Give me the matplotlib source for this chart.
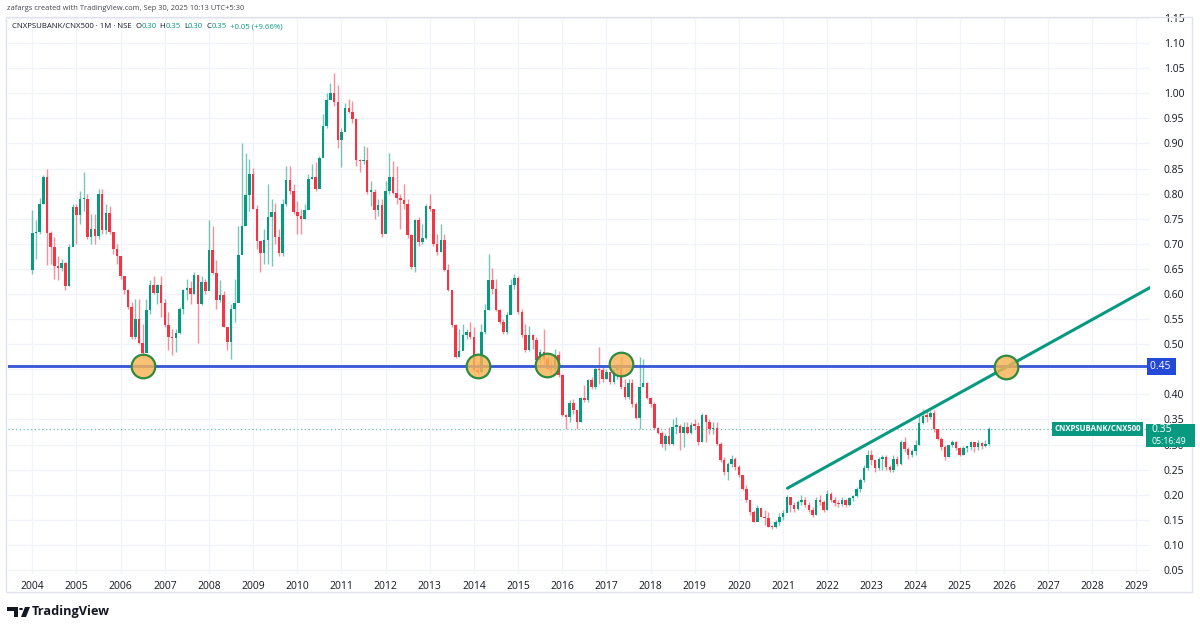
import matplotlib
matplotlib.use("Agg")
import matplotlib.pyplot as plt
from matplotlib.patches import Rectangle, Polygon, Circle
from matplotlib.transforms import blended_transform_factory

# ---------------- data (monthly candles, Jan 2004 .. Sep 2025) ----------------
first_open = 0.648
closes = [
    0.721, 0.724, 0.780, 0.834, 0.722, 0.694, 0.655, 0.651, 0.661, 0.615, 0.694, 0.774,
    0.757, 0.789, 0.790, 0.713, 0.730, 0.716, 0.800, 0.728, 0.762, 0.724, 0.689, 0.675,
    0.635, 0.608, 0.575, 0.515, 0.550, 0.502, 0.482, 0.568, 0.618, 0.602, 0.618, 0.582,
    0.538, 0.515, 0.512, 0.522, 0.570, 0.608, 0.611, 0.600, 0.638, 0.581, 0.624, 0.605,
    0.687, 0.642, 0.588, 0.598, 0.535, 0.505, 0.571, 0.583, 0.678, 0.736, 0.798, 0.840,
    0.770, 0.705, 0.682, 0.707, 0.754, 0.764, 0.714, 0.681, 0.779, 0.827, 0.806, 0.764,
    0.755, 0.750, 0.767, 0.829, 0.834, 0.810, 0.872, 0.935, 0.986, 1.001, 0.983, 0.907,
    0.923, 0.970, 0.963, 0.948, 0.867, 0.865, 0.868, 0.804, 0.804, 0.767, 0.777, 0.720,
    0.805, 0.834, 0.802, 0.792, 0.787, 0.780, 0.717, 0.653, 0.747, 0.704, 0.712, 0.775,
    0.770, 0.700, 0.684, 0.707, 0.648, 0.608, 0.538, 0.475, 0.486, 0.518, 0.525, 0.515,
    0.448, 0.445, 0.525, 0.568, 0.628, 0.610, 0.568, 0.545, 0.525, 0.558, 0.617, 0.631,
    0.564, 0.518, 0.488, 0.518, 0.508, 0.468, 0.484, 0.470, 0.451, 0.448, 0.478, 0.438,
    0.358, 0.355, 0.382, 0.368, 0.345, 0.392, 0.388, 0.428, 0.415, 0.450, 0.448, 0.431,
    0.445, 0.425, 0.448, 0.452, 0.415, 0.395, 0.423, 0.380, 0.352, 0.415, 0.423, 0.392,
    0.380, 0.332, 0.322, 0.302, 0.318, 0.302, 0.335, 0.337, 0.322, 0.335, 0.322, 0.339,
    0.337, 0.305, 0.359, 0.345, 0.330, 0.333, 0.302, 0.270, 0.246, 0.262, 0.272, 0.256,
    0.240, 0.212, 0.190, 0.166, 0.146, 0.173, 0.156, 0.153, 0.136, 0.135, 0.146, 0.156,
    0.163, 0.196, 0.180, 0.172, 0.186, 0.190, 0.180, 0.170, 0.160, 0.190, 0.186, 0.170,
    0.201, 0.190, 0.183, 0.181, 0.190, 0.180, 0.193, 0.197, 0.211, 0.230, 0.253, 0.279,
    0.269, 0.253, 0.272, 0.276, 0.256, 0.250, 0.272, 0.262, 0.306, 0.292, 0.280, 0.288,
    0.300, 0.342, 0.357, 0.355, 0.363, 0.330, 0.312, 0.296, 0.276, 0.299, 0.305, 0.293,
    0.280, 0.294, 0.295, 0.305, 0.296, 0.304, 0.298, 0.302, 0.331,
]
highs = [
    0.767, 0.748, 0.792, 0.837, 0.850, 0.725, 0.713, 0.676, 0.670, 0.664, 0.700, 0.780,
    0.780, 0.805, 0.844, 0.800, 0.760, 0.760, 0.810, 0.810, 0.780, 0.775, 0.720, 0.700,
    0.675, 0.630, 0.610, 0.585, 0.590, 0.590, 0.540, 0.590, 0.628, 0.635, 0.620, 0.635,
    0.590, 0.565, 0.530, 0.530, 0.575, 0.610, 0.630, 0.626, 0.644, 0.636, 0.635, 0.630,
    0.747, 0.735, 0.667, 0.627, 0.605, 0.535, 0.580, 0.630, 0.735, 0.900, 0.880, 0.870,
    0.852, 0.777, 0.700, 0.730, 0.820, 0.790, 0.782, 0.730, 0.790, 0.855, 0.855, 0.820,
    0.785, 0.770, 0.780, 0.840, 0.860, 0.864, 0.875, 0.958, 1.000, 1.020, 1.040, 1.016,
    0.930, 0.980, 0.988, 0.985, 0.950, 0.870, 0.895, 0.893, 0.825, 0.810, 0.790, 0.790,
    0.826, 0.880, 0.866, 0.855, 0.800, 0.820, 0.790, 0.720, 0.750, 0.753, 0.740, 0.780,
    0.800, 0.770, 0.720, 0.740, 0.720, 0.660, 0.608, 0.540, 0.530, 0.540, 0.530, 0.545,
    0.535, 0.465, 0.540, 0.580, 0.680, 0.652, 0.630, 0.570, 0.550, 0.565, 0.630, 0.640,
    0.635, 0.570, 0.540, 0.537, 0.520, 0.515, 0.490, 0.530, 0.480, 0.470, 0.490, 0.487,
    0.440, 0.360, 0.388, 0.390, 0.360, 0.395, 0.418, 0.430, 0.435, 0.455, 0.495, 0.455,
    0.450, 0.440, 0.455, 0.460, 0.475, 0.430, 0.430, 0.430, 0.385, 0.475, 0.470, 0.425,
    0.395, 0.385, 0.335, 0.326, 0.322, 0.335, 0.350, 0.355, 0.340, 0.345, 0.345, 0.345,
    0.350, 0.345, 0.362, 0.360, 0.350, 0.345, 0.345, 0.305, 0.275, 0.265, 0.280, 0.275,
    0.260, 0.240, 0.220, 0.190, 0.170, 0.180, 0.170, 0.170, 0.165, 0.140, 0.150, 0.163,
    0.170, 0.200, 0.195, 0.185, 0.190, 0.200, 0.195, 0.185, 0.175, 0.195, 0.200, 0.190,
    0.210, 0.205, 0.195, 0.190, 0.195, 0.192, 0.196, 0.200, 0.215, 0.233, 0.260, 0.290,
    0.290, 0.270, 0.275, 0.280, 0.280, 0.260, 0.280, 0.278, 0.310, 0.315, 0.295, 0.292,
    0.310, 0.359, 0.370, 0.366, 0.366, 0.368, 0.330, 0.315, 0.300, 0.300, 0.310, 0.308,
    0.295, 0.297, 0.298, 0.308, 0.306, 0.310, 0.306, 0.310, 0.335,
]
lows = [
    0.640, 0.670, 0.720, 0.780, 0.658, 0.660, 0.630, 0.627, 0.645, 0.607, 0.615, 0.700,
    0.700, 0.740, 0.766, 0.710, 0.700, 0.700, 0.710, 0.720, 0.720, 0.720, 0.680, 0.660,
    0.630, 0.600, 0.570, 0.510, 0.510, 0.500, 0.475, 0.520, 0.560, 0.600, 0.580, 0.555,
    0.535, 0.488, 0.479, 0.485, 0.520, 0.560, 0.588, 0.580, 0.600, 0.502, 0.578, 0.600,
    0.610, 0.640, 0.570, 0.585, 0.535, 0.488, 0.470, 0.545, 0.588, 0.680, 0.755, 0.766,
    0.770, 0.689, 0.643, 0.660, 0.660, 0.655, 0.700, 0.675, 0.676, 0.775, 0.800, 0.760,
    0.720, 0.720, 0.750, 0.770, 0.830, 0.805, 0.812, 0.890, 0.930, 0.990, 0.975, 0.890,
    0.854, 0.935, 0.960, 0.940, 0.855, 0.843, 0.860, 0.800, 0.775, 0.750, 0.755, 0.714,
    0.726, 0.800, 0.800, 0.780, 0.730, 0.770, 0.712, 0.650, 0.644, 0.695, 0.700, 0.710,
    0.765, 0.695, 0.678, 0.684, 0.645, 0.605, 0.535, 0.472, 0.475, 0.490, 0.510, 0.510,
    0.446, 0.440, 0.445, 0.520, 0.568, 0.600, 0.566, 0.540, 0.520, 0.520, 0.560, 0.610,
    0.560, 0.515, 0.485, 0.486, 0.490, 0.460, 0.460, 0.455, 0.450, 0.445, 0.445, 0.435,
    0.357, 0.330, 0.345, 0.360, 0.330, 0.345, 0.385, 0.385, 0.410, 0.410, 0.420, 0.425,
    0.430, 0.420, 0.420, 0.430, 0.410, 0.390, 0.390, 0.375, 0.350, 0.330, 0.415, 0.390,
    0.375, 0.330, 0.320, 0.295, 0.290, 0.300, 0.300, 0.320, 0.290, 0.295, 0.320, 0.320,
    0.330, 0.300, 0.305, 0.305, 0.320, 0.320, 0.300, 0.265, 0.240, 0.230, 0.255, 0.250,
    0.235, 0.210, 0.185, 0.160, 0.145, 0.160, 0.155, 0.140, 0.135, 0.132, 0.134, 0.140,
    0.150, 0.165, 0.165, 0.165, 0.170, 0.180, 0.175, 0.165, 0.155, 0.160, 0.180, 0.165,
    0.170, 0.185, 0.178, 0.175, 0.178, 0.175, 0.178, 0.188, 0.195, 0.205, 0.225, 0.250,
    0.260, 0.245, 0.250, 0.250, 0.250, 0.245, 0.245, 0.258, 0.260, 0.285, 0.272, 0.275,
    0.280, 0.300, 0.340, 0.345, 0.350, 0.325, 0.310, 0.290, 0.270, 0.275, 0.295, 0.290,
    0.278, 0.280, 0.285, 0.290, 0.285, 0.290, 0.292, 0.295, 0.300,
]
year_labels = [str(y) for y in range(2004, 2030)]
price_ticks = [round(0.05 * k, 2) for k in range(1, 24)]

# drawings (in month-index / price units)
support_level = 0.456
trend_x = [205.2, 305.0]
trend_y = [0.213, 0.618]
circle_x = [30.1, 121.1, 139.9, 160.0, 264.6]
circle_y = [0.456, 0.456, 0.458, 0.461, 0.455]

header1 = "zafargs created with TradingView.com, Sep 30, 2025 10:13 UTC+5:30"
symbol_text = "CNXPSUBANK/CNX500 · 1M · NSE"
ohlc_text = [("O", "0.30"), ("H", "0.35"), ("L", "0.30"), ("C", "0.35")]
change_text = "+0.05 (+9.66%)"
last_price_label = "0.35"
countdown = "05:16:49"
level_label = "0.45"

# ---------------- style ----------------
GREEN = "#089981"
RED = "#f23645"
TXT = "#131722"
GRID = "#f0f3fa"
BLUE = "#3355d6"

plt.rcParams["font.family"] = ["Open Sans", "DejaVu Sans"]

W, H = 1200, 632
fig = plt.figure(figsize=(W / 100, H / 100), dpi=100)
fig.patch.set_facecolor("white")
renderer = fig.canvas.get_renderer()

def fx(px):
    return px / W

def fy(py):
    return 1 - py / H

def text_w(t):
    return t.get_window_extent(renderer=renderer).width

ax = fig.add_axes([fx(8), fy(574), fx(1150) - fx(8), fy(17) - fy(574)])
ax.set_facecolor("white")

n = len(closes)
xs = list(range(n))
opens = [first_open] + closes[:-1]
cols = [GREEN if c >= o else RED for o, c in zip(opens, closes)]

ax.vlines(xs, lows, highs, colors=cols, linewidth=1.0, alpha=0.55, zorder=2)
bottoms = [min(o, c) for o, c in zip(opens, closes)]
heights = [max(abs(c - o), 0.003) for o, c in zip(opens, closes)]
ax.bar(xs, heights, bottom=bottoms, width=0.68, color=cols, linewidth=0, zorder=3)

# support line & trend line
ax.axhline(support_level, color=BLUE, linewidth=2, zorder=4)
ax.plot(trend_x, trend_y, color=GREEN, linewidth=2.2, zorder=4, solid_capstyle="round")
# last price dotted line
ax.axhline(closes[-1], color=GREEN, linewidth=0.9, alpha=0.6, linestyle=(0, (1, 2)), zorder=1)

# circles
ax.plot(circle_x, circle_y, "o", ms=17, mfc=(0.976, 0.70, 0.33, 0.82),
        mec="#2e8b3e", mew=1.6, zorder=6, linestyle="none")

# axes config
ax.set_xlim(-6.6, 303.7)
ax.set_ylim(0.042, 1.152)
ax.set_xticks([12 * i for i in range(len(year_labels))])
ax.set_xticklabels(year_labels)
ax.set_yticks(price_ticks)
ax.set_yticklabels(["" if abs(v - 0.45) < 1e-9 else "%.2f" % v for v in price_ticks])
ax.yaxis.tick_right()
ax.tick_params(axis="both", length=0, labelsize=7.5, colors=TXT)
ax.tick_params(axis="y", pad=10)
ax.tick_params(axis="x", pad=5)
ax.grid(True, color=GRID, linewidth=0.9, zorder=0)
ax.set_axisbelow(True)
for s in ax.spines.values():
    s.set_visible(False)

# pane border
fig.patches.append(Rectangle((fx(6), fy(592)), fx(1192) - fx(6), fy(17) - fy(592),
                             transform=fig.transFigure, fill=False,
                             edgecolor="#e0e3eb", linewidth=1.0))

# header line 1 (fit to reference width)
h1 = fig.text(fx(7), fy(9), header1, fontsize=7, color="#434651", va="center", ha="left")
h1.set_fontsize(7 * 240 / text_w(h1))

# header line 2: pieces laid out one after another
hfs = 5.6
def put(x, s, color, gap=0.0):
    t = fig.text(fx(x), fy(27), s, fontsize=hfs, color=color, va="center", ha="left")
    return x + text_w(t) + gap

xcur = put(12, symbol_text, TXT, 3.5)
for lab, val in ohlc_text:
    xcur = put(xcur, lab, TXT)
    xcur = put(xcur, val, GREEN, 3.5)
put(xcur, change_text, GREEN)

# price-scale labels
bt = blended_transform_factory(fig.transFigure, ax.transData)
ax.text(fx(1150), support_level, level_label + " ", transform=bt, fontsize=7.5,
        color="white", va="center", ha="left", zorder=10, clip_on=False,
        bbox=dict(boxstyle="square,pad=0.3", fc="#2448d8", ec="none"))
ax.text(fx(1141), closes[-1], "CNXPSUBANK/CNX500", transform=bt, fontsize=5.6,
        color="white", va="center", ha="right", zorder=10, clip_on=False,
        fontweight="bold",
        bbox=dict(boxstyle="square,pad=0.3", fc=GREEN, ec="none"))
fig.patches.append(Rectangle((fx(1146), fy(447)), fx(1195) - fx(1146), fy(424) - fy(447),
                             transform=fig.transFigure, facecolor=GREEN, edgecolor="none",
                             zorder=10))
fig.text(fx(1151), fy(430), last_price_label, fontsize=7.5, color="white",
         va="center", ha="left", zorder=11)
fig.text(fx(1151), fy(441), countdown, fontsize=6.3, color="white",
         va="center", ha="left", zorder=11)

# TradingView logo
logo_col = "#131722"
fig.patches.append(Polygon([(fx(7), fy(607)), (fx(18), fy(607)), (fx(18), fy(617)),
                            (fx(13.5), fy(617)), (fx(13.5), fy(611)), (fx(7), fy(611))],
                           closed=True, transform=fig.transFigure, facecolor=logo_col,
                           edgecolor="none"))
fig.patches.append(Circle((fx(21), fy(609)), 2.0 / W, transform=fig.transFigure,
                          facecolor=logo_col, edgecolor="none"))
fig.patches.append(Polygon([(fx(25), fy(607)), (fx(30), fy(607)), (fx(26), fy(617)),
                            (fx(21), fy(617))],
                           closed=True, transform=fig.transFigure, facecolor=logo_col,
                           edgecolor="none"))
tv = fig.text(fx(32), fy(612), "TradingView", fontsize=10, fontweight="bold",
              color=logo_col, va="center", ha="left")
tv.set_fontsize(10 * 78 / text_w(tv))

fig.savefig("out.png", dpi=100, facecolor="white")
